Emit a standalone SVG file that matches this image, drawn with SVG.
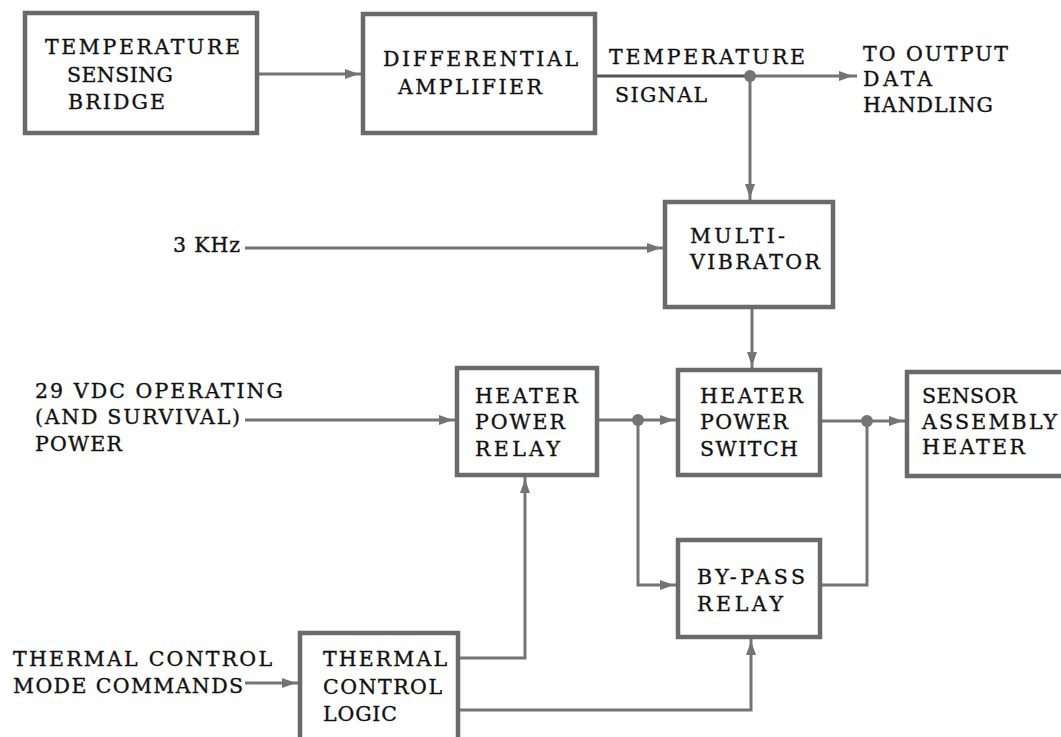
<svg xmlns="http://www.w3.org/2000/svg" width="1061" height="737" viewBox="0 0 1061 737">
<style>
.box{fill:#fff;stroke:#6a6a6a;stroke-width:4.5}
.ln{fill:none;stroke:#747474;stroke-width:3}
.t{font-family:"DejaVu Serif","Liberation Serif",serif;font-size:20.5px;fill:#111;stroke:#111;stroke-width:0.35}
.dot{fill:#747474}
</style>
<defs>
<marker id="ah" markerUnits="userSpaceOnUse" markerWidth="20" markerHeight="12" refX="18" refY="5" orient="auto">
<path d="M0,0 L14,5 L0,10 z" fill="#747474"/>
</marker>
</defs>
<rect width="1061" height="737" fill="#fff"/>
<g id="connectors">
<line class="ln" x1="257" y1="74" x2="363" y2="74" marker-end="url(#ah)"/>
<line class="ln" x1="595" y1="76" x2="750" y2="76" style="stroke:#555"/>
<line class="ln" x1="750" y1="76" x2="857" y2="76" marker-end="url(#ah)"/>
<line class="ln" x1="750" y1="76" x2="750" y2="202" marker-end="url(#ah)"/>
<line class="ln" x1="245" y1="248" x2="665" y2="248" marker-end="url(#ah)"/>
<line class="ln" x1="752" y1="307" x2="752" y2="370" marker-end="url(#ah)"/>
<line class="ln" x1="245" y1="420" x2="457" y2="420" marker-end="url(#ah)"/>
<line class="ln" x1="597" y1="420" x2="678" y2="420" marker-end="url(#ah)"/>
<line class="ln" x1="820" y1="421" x2="907" y2="421" marker-end="url(#ah)"/>
<polyline class="ln" points="638,420 638,585 678,585" marker-end="url(#ah)"/>
<polyline class="ln" points="820,585 867,585 867,421"/>
<polyline class="ln" points="458,658 525,658 525,475" marker-end="url(#ah)"/>
<polyline class="ln" points="458,710 751,710 751,637" marker-end="url(#ah)"/>
<line class="ln" x1="245" y1="683" x2="300" y2="683" marker-end="url(#ah)"/>
<circle class="dot" cx="750" cy="76" r="6"/>
<circle class="dot" cx="638" cy="420" r="6"/>
<circle class="dot" cx="867" cy="421" r="6"/>
</g>
<g id="temperature-sensing-bridge">
<rect class="box" x="25" y="13" width="232" height="120"/>
<text class="t" x="45" y="54" textLength="195" lengthAdjust="spacing">TEMPERATURE</text>
<text class="t" x="67" y="82" textLength="106" lengthAdjust="spacing">SENSING</text>
<text class="t" x="68" y="109" textLength="97" lengthAdjust="spacing">BRIDGE</text>
</g>
<g id="differential-amplifier">
<rect class="box" x="363" y="14" width="232" height="119"/>
<text class="t" x="383" y="66" textLength="195" lengthAdjust="spacing">DIFFERENTIAL</text>
<text class="t" x="398" y="94" textLength="144" lengthAdjust="spacing">AMPLIFIER</text>
</g>
<g id="temperature-signal-label">
<text class="t" x="609" y="64" textLength="196" lengthAdjust="spacing">TEMPERATURE</text>
<text class="t" x="615" y="102" textLength="92" lengthAdjust="spacing">SIGNAL</text>
</g>
<g id="to-output-data-handling">
<text class="t" x="863" y="61" textLength="145" lengthAdjust="spacing">TO OUTPUT</text>
<text class="t" x="863" y="86" textLength="69" lengthAdjust="spacing">DATA</text>
<text class="t" x="863" y="112" textLength="130" lengthAdjust="spacing">HANDLING</text>
</g>
<g id="khz-input">
<text class="t" x="173" y="252" textLength="67" lengthAdjust="spacing">3 KHz</text>
</g>
<g id="multivibrator">
<rect class="box" x="665" y="202" width="168" height="105"/>
<text class="t" x="690" y="243" textLength="95" lengthAdjust="spacing">MULTI-</text>
<text class="t" x="690" y="269" textLength="130" lengthAdjust="spacing">VIBRATOR</text>
</g>
<g id="power-input">
<text class="t" x="35" y="398" textLength="248" lengthAdjust="spacing">29 VDC OPERATING</text>
<text class="t" x="35" y="424" textLength="205" lengthAdjust="spacing">(AND SURVIVAL)</text>
<text class="t" x="35" y="451" textLength="87" lengthAdjust="spacing">POWER</text>
</g>
<g id="heater-power-relay">
<rect class="box" x="457" y="368" width="140" height="107"/>
<text class="t" x="475" y="403" textLength="103" lengthAdjust="spacing">HEATER</text>
<text class="t" x="475" y="429" textLength="90" lengthAdjust="spacing">POWER</text>
<text class="t" x="475" y="456" textLength="85" lengthAdjust="spacing">RELAY</text>
</g>
<g id="heater-power-switch">
<rect class="box" x="678" y="370" width="142" height="105"/>
<text class="t" x="700" y="403" textLength="103" lengthAdjust="spacing">HEATER</text>
<text class="t" x="700" y="429" textLength="88" lengthAdjust="spacing">POWER</text>
<text class="t" x="700" y="456" textLength="98" lengthAdjust="spacing">SWITCH</text>
</g>
<g id="sensor-assembly-heater">
<rect class="box" x="907" y="372" width="170" height="104"/>
<text class="t" x="922" y="403" textLength="95" lengthAdjust="spacing">SENSOR</text>
<text class="t" x="922" y="429" textLength="135" lengthAdjust="spacing">ASSEMBLY</text>
<text class="t" x="922" y="454" textLength="103" lengthAdjust="spacing">HEATER</text>
</g>
<g id="by-pass-relay">
<rect class="box" x="678" y="540" width="142" height="97"/>
<text class="t" x="697" y="584" textLength="108" lengthAdjust="spacing">BY-PASS</text>
<text class="t" x="697" y="611" textLength="86" lengthAdjust="spacing">RELAY</text>
</g>
<g id="mode-commands">
<text class="t" x="13" y="666" textLength="259" lengthAdjust="spacing">THERMAL CONTROL</text>
<text class="t" x="13" y="693" textLength="230" lengthAdjust="spacing">MODE COMMANDS</text>
</g>
<g id="thermal-control-logic">
<rect class="box" x="300" y="633" width="158" height="115"/>
<text class="t" x="323" y="666" textLength="124" lengthAdjust="spacing">THERMAL</text>
<text class="t" x="323" y="694" textLength="119" lengthAdjust="spacing">CONTROL</text>
<text class="t" x="323" y="721" textLength="74" lengthAdjust="spacing">LOGIC</text>
</g>
</svg>
